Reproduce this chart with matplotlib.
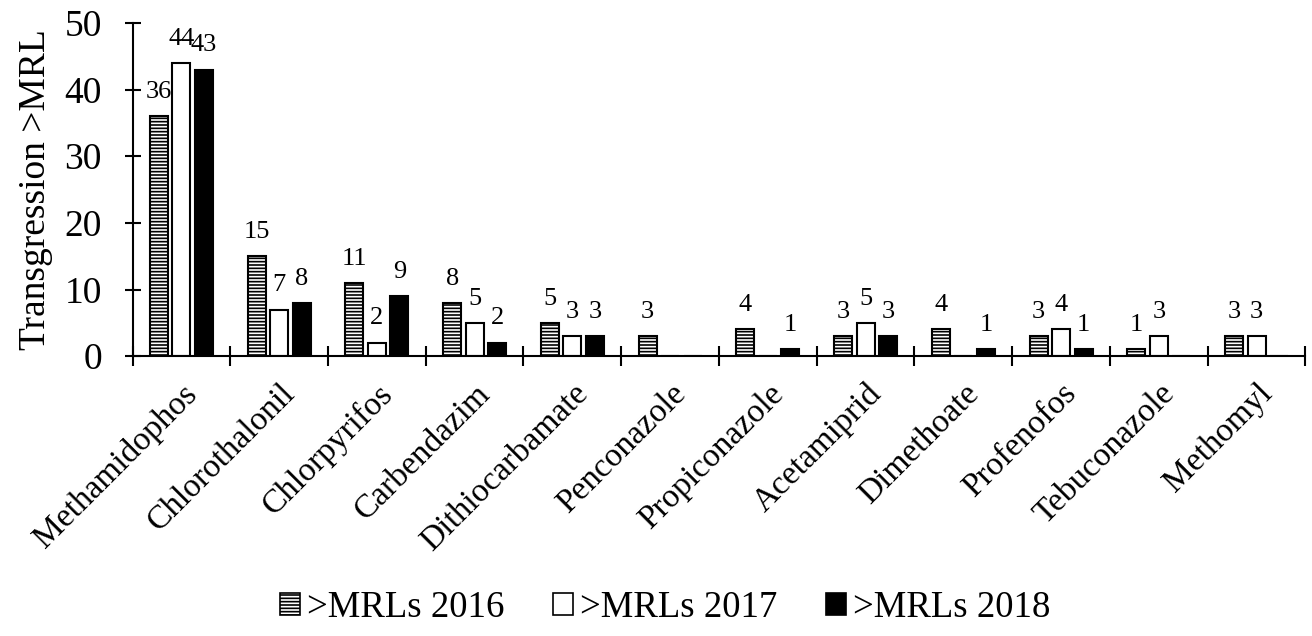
import numpy as np
import matplotlib.pyplot as plt
from matplotlib.patches import Patch

plt.rcParams['font.family'] = ['Liberation Serif', 'DejaVu Serif']
plt.rcParams['hatch.linewidth'] = 1.2

pesticidas = ["Methamidophos", "Chlorothalonil", "Chlorpyrifos", "Carbendazim",
              "Dithiocarbamate", "Penconazole", "Propiconazole", "Acetamiprid",
              "Dimethoate", "Profenofos", "Tebuconazole", "Methomyl"]
mrl_2016 = [36, 15, 11, 8, 5, 3, 4, 3, 4, 3, 1, 3]
mrl_2017 = [44, 7, 2, 5, 3, 0, 0, 5, 0, 4, 3, 3]
mrl_2018 = [43, 8, 9, 2, 3, 0, 1, 3, 1, 1, 0, 0]
etiquetas = [">MRLs 2016", ">MRLs 2017", ">MRLs 2018"]

fig = plt.figure(figsize=(13.12, 6.36), dpi=100)
ax = fig.add_axes([0.101, 0.44, 0.894, 0.524])

x = np.arange(len(pesticidas))
ancho = 0.185
paso = 0.23
series = [(mrl_2016, 'white', '-----'), (mrl_2017, 'white', None), (mrl_2018, 'black', None)]

# barras por año y etiquetas de valor (sin los ceros)
for i, (vals, color, hatch) in enumerate(series):
    pos = x + (i - 1) * paso
    ax.bar(pos, vals, ancho, color=color, edgecolor='black', linewidth=1.5, hatch=hatch)
    for xp, v in zip(pos, vals):
        if v > 0:
            ax.text(xp, v + 2.0, str(v), ha='center', va='bottom', fontsize=19)

ax.set_xlim(-0.5, len(pesticidas) - 0.5)
ax.set_ylim(0, 50)
ax.set_yticks(range(0, 51, 10))
ax.tick_params(axis='y', labelsize=27, direction='inout', length=12, width=1.5, pad=16)

ax.set_xticks(x)
ax.set_xticklabels(pesticidas, rotation=45, ha='right', rotation_mode='anchor', fontsize=24)
ax.tick_params(axis='x', which='major', length=0, pad=16)
ax.set_xticks(np.arange(-0.5, len(pesticidas)), minor=True)
ax.tick_params(axis='x', which='minor', direction='inout', length=14, width=1.5)

for lado in ['top', 'right']:
    ax.spines[lado].set_visible(False)
for lado in ['left', 'bottom']:
    ax.spines[lado].set_linewidth(1.5)

ax.set_ylabel("Transgression >MRL", fontsize=27, labelpad=8)

manijas = [Patch(facecolor='white', edgecolor='black', hatch='-----', linewidth=1.2),
           Patch(facecolor='white', edgecolor='black', linewidth=1.2),
           Patch(facecolor='black', edgecolor='black', linewidth=1.2)]
fig.legend(manijas, etiquetas, loc='center', bbox_to_anchor=(0.507, 0.045), ncol=3,
           frameon=False, fontsize=26.5, handlelength=0.55, handleheight=0.55,
           handletextpad=0.2, columnspacing=1.3)

fig.savefig("out.png", dpi=100)
